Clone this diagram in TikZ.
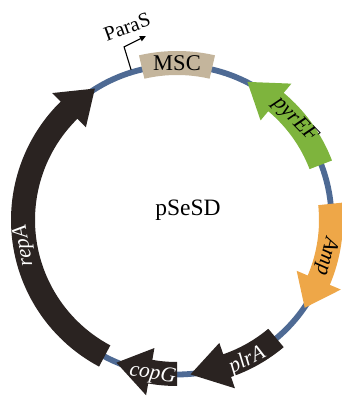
\documentclass[tikz,border=0pt]{standalone}
\usepackage{fontspec}
\setmainfont{Liberation Serif}
\usetikzlibrary{arrows.meta}
\definecolor{ringblue}{RGB}{78,106,148}
\definecolor{msctan}{RGB}{196,181,156}
\definecolor{genegreen}{RGB}{126,180,61}
\definecolor{geneorange}{RGB}{238,167,72}
\definecolor{geneblack}{RGB}{42,35,33}
\newcommand\RadO{166}
\newcommand\RadI{142}
\newcommand\RadHO{178}
\newcommand\RadHI{130}
\newcommand\RadM{155}
\newcommand\genearrow[4]{\fill[#1] (#2:\RadO) arc[start angle=#2, end angle=#3, radius=\RadO] -- (#3:\RadHO) -- (#4:\RadM) -- (#3:\RadHI) -- (#3:\RadI) arc[start angle=#3, end angle=#2, radius=\RadI] -- cycle;}
\begin{document}
\begin{tikzpicture}[x=1pt,y=1pt,
  genelabel/.style={font=\fontsize{21.5}{21.5}\selectfont\itshape, inner sep=0pt},
  plainlabel/.style={font=\fontsize{22.5}{22.5}\selectfont, inner sep=0pt}]
\useasboundingbox (0,0) rectangle (341,396);
\begin{scope}[shift={(177,176)}]
  \draw[ringblue, line width=5.8pt] (0,0) circle[radius=154.5];
  % MSC box
  \fill[msctan] (77:145) arc[start angle=77, end angle=103, radius=145] -- (103:169) arc[start angle=103, end angle=77, radius=169] -- cycle;
  \node[plainlabel] (msc) at (90:157) {MSC};
  % genes
  \genearrow{genegreen}{21}{50}{63}
  \genearrow{geneorange}{6}{-23}{-34.5}
  \genearrow{geneblack}{-50}{-71}{-85}
  \genearrow{geneblack}{-90}{-100}{-113}
  \genearrow{geneblack}{242}{134.5}{122}
  \node[genelabel, rotate=-46] (lpyr) at (40.3:154.7) {pyrEF};
  \node[genelabel, rotate=-103.7] (lamp) at (-13.7:153.5) {Amp};
  \node[genelabel, white, rotate=26.6] (lplr) at (-63.4:157) {plrA};
  \node[genelabel, white, rotate=-9] (lcop) at (-99:156) {copG};
  \node[genelabel, white, rotate=99.5] (lrep) at (189.5:155) {repA};
  % promoter
  \coordinate (pbase) at (107:157);
  \coordinate (pbend) at (107:181);
  \coordinate (ptip) at (99.6:186.6);
  \draw[black, line width=1.1pt, -{Triangle[length=6pt,width=5.5pt]}] (pbase) -- (pbend) -- (ptip);
\end{scope}
\node[plainlabel, font=\fontsize{20.5}{20.5}\selectfont, rotate=20] (paras) at (127,369) {ParaS};
\node[plainlabel, font=\fontsize{23.5}{23.5}\selectfont] (name) at (188,186) {pSeSD};
\end{tikzpicture}
\end{document}
